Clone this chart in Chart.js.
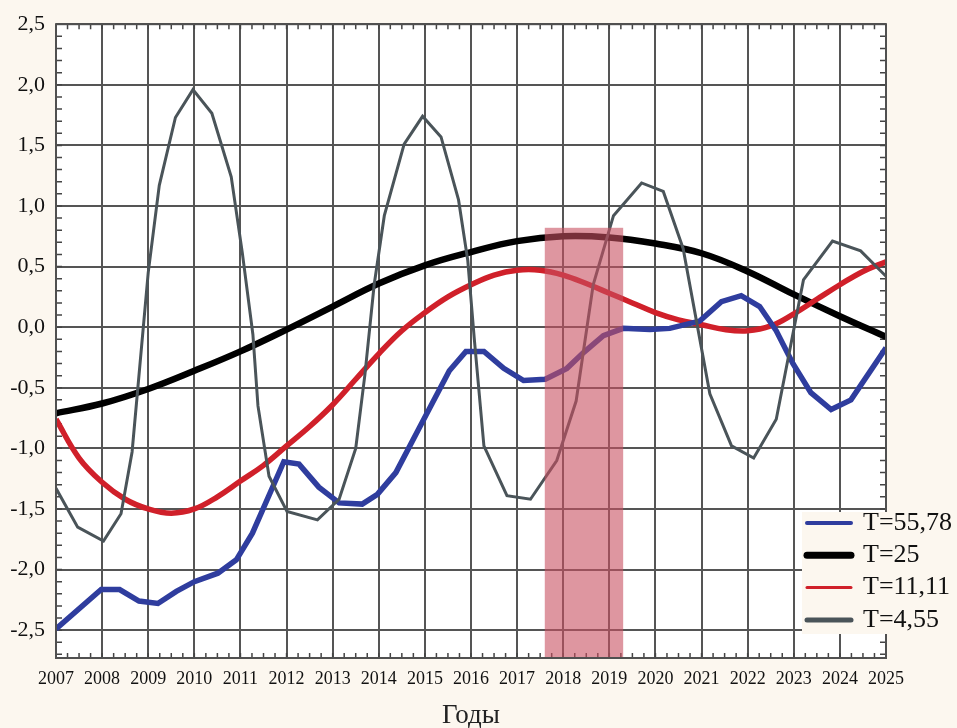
<!DOCTYPE html>
<html>
<head>
<meta charset="utf-8">
<script src="https://cdn.jsdelivr.net/npm/chart.js@4.4.1/dist/chart.umd.min.js"></script>
<style>
  html, body { margin: 0; padding: 0; background: #fcf7ef; }
  #wrap { width: 957px; height: 728px; }
</style>
</head>
<body>
<div id="wrap"><canvas id="grafico" width="957" height="728"></canvas></div>
<script>
// eixos
const xTicks = [2007, 2008, 2009, 2010, 2011, 2012, 2013, 2014, 2015, 2016, 2017, 2018, 2019, 2020, 2021, 2022, 2023, 2024, 2025];
const yTicks = [-2.5, -2, -1.5, -1, -0.5, 0, 0.5, 1, 1.5, 2, 2.5];
const xMin = 2007, xMax = 2025;
const yMin = -2.73, yMax = 2.5;
const xMinorStep = 0.25, yMinorStep = 0.1;
const axisTitle = 'Годы';

const legendLabels = ['T=55,78', 'T=25', 'T=11,11', 'T=4,55'];
const legendWidths = [4, 7, 3, 5];

// T=55,78
const blueYears = [2007.0, 2007.98, 2008.38, 2008.8, 2009.21, 2009.61, 2010.0, 2010.51, 2010.91, 2011.26, 2011.94, 2012.27, 2012.7, 2013.14, 2013.64, 2013.97, 2014.37, 2014.88, 2015.53, 2015.89, 2016.28, 2016.71, 2017.14, 2017.61, 2018.08, 2018.44, 2018.87, 2019.3, 2019.88, 2020.31, 2020.96, 2021.43, 2021.86, 2022.26, 2022.62, 2022.98, 2023.37, 2023.81, 2024.24, 2025.0];
const blueValues = [-2.49, -2.165, -2.165, -2.26, -2.28, -2.18, -2.10, -2.03, -1.92, -1.70, -1.11, -1.13, -1.32, -1.45, -1.46, -1.38, -1.20, -0.83, -0.36, -0.20, -0.20, -0.34, -0.44, -0.43, -0.34, -0.21, -0.07, -0.01, -0.02, -0.01, 0.05, 0.21, 0.26, 0.17, -0.03, -0.30, -0.54, -0.68, -0.60, -0.17];

// T=25
const blackYears = [2007, 2008, 2009, 2010, 2011, 2012, 2013, 2014, 2015, 2016, 2017, 2018, 2019, 2020, 2021, 2022, 2023, 2024, 2025];
const blackValues = [-0.71, -0.63, -0.51, -0.36, -0.20, -0.02, 0.17, 0.36, 0.51, 0.62, 0.71, 0.75, 0.74, 0.69, 0.61, 0.46, 0.27, 0.09, -0.08];

// T=11,11
const redYears = [2007, 2007.5, 2008, 2008.5, 2009, 2009.5, 2010, 2010.5, 2011, 2011.5, 2012, 2012.5, 2013, 2013.5, 2014, 2014.5, 2015, 2015.5, 2016, 2016.5, 2017, 2017.5, 2018, 2018.5, 2019, 2019.5, 2020, 2020.5, 2021, 2021.5, 2022, 2022.5, 2023, 2023.5, 2024, 2024.5, 2025];
const redValues = [-0.76, -1.08, -1.28, -1.42, -1.50, -1.535, -1.50, -1.40, -1.27, -1.14, -0.98, -0.82, -0.64, -0.43, -0.22, -0.03, 0.12, 0.25, 0.35, 0.43, 0.47, 0.47, 0.43, 0.36, 0.28, 0.20, 0.12, 0.06, 0.02, -0.02, -0.03, 0.01, 0.11, 0.23, 0.35, 0.46, 0.54];

// T=4,55
const greyYears = [2007.0, 2007.47, 2008.03, 2008.41, 2008.65, 2009.0, 2009.24, 2009.59, 2009.97, 2010.38, 2010.8, 2011.04, 2011.27, 2011.38, 2011.62, 2012.01, 2012.67, 2013.14, 2013.5, 2013.7, 2013.9, 2014.12, 2014.55, 2014.95, 2015.35, 2015.73, 2015.93, 2016.07, 2016.28, 2016.78, 2017.29, 2017.86, 2018.28, 2018.65, 2019.09, 2019.7, 2020.17, 2020.6, 2021.18, 2021.65, 2022.13, 2022.62, 2023.21, 2023.84, 2024.45, 2025.0];
const greyValues = [-1.33, -1.65, -1.765, -1.54, -1.03, 0.45, 1.17, 1.73, 1.96, 1.765, 1.24, 0.615, -0.06, -0.65, -1.23, -1.52, -1.59, -1.42, -1.0, -0.39, 0.35, 0.92, 1.51, 1.74, 1.57, 1.05, 0.55, -0.09, -0.98, -1.39, -1.42, -1.10, -0.61, 0.35, 0.92, 1.19, 1.12, 0.65, -0.55, -0.98, -1.08, -0.76, 0.39, 0.71, 0.63, 0.42];

// faixa rosa (2017.6 - 2019.3)
const bandFrom = 2017.6, bandTo = 2019.3, bandTop = 0.82;

const pares = (xs, ys) => xs.map((x, i) => ({ x: x, y: ys[i] }));
const fmt = v => v.toFixed(1).replace('.', ',');

// fundo creme + area branca
const fundo = {
    id: 'fundo',
    beforeDraw(chart) {
        const { ctx, chartArea: a } = chart;
        ctx.save();
        ctx.fillStyle = '#fcf7ef';
        ctx.fillRect(0, 0, chart.width, chart.height);
        ctx.fillStyle = '#ffffff';
        ctx.fillRect(a.left, a.top, a.right - a.left, a.bottom - a.top);
        ctx.restore();
    }
};

// tracinhos menores por dentro dos quatro lados
const tracinhos = {
    id: 'tracinhos',
    beforeDatasetsDraw(chart) {
        const { ctx, chartArea: a, scales: { x, y } } = chart;
        ctx.save();
        ctx.strokeStyle = '#444';
        ctx.lineWidth = 1.5;
        ctx.beginPath();
        for (let v = xMin; v <= xMax + 1e-9; v += xMinorStep) {
            const px = x.getPixelForValue(v);
            ctx.moveTo(px, a.bottom); ctx.lineTo(px, a.bottom - 5);
            ctx.moveTo(px, a.top); ctx.lineTo(px, a.top + 5);
        }
        for (let v = yMax; v >= yMin - 1e-9; v -= yMinorStep) {
            const py = y.getPixelForValue(v);
            ctx.moveTo(a.left, py); ctx.lineTo(a.left + 6, py);
            ctx.moveTo(a.right, py); ctx.lineTo(a.right - 6, py);
        }
        ctx.stroke();
        ctx.restore();
    }
};

// faixa translucida por cima das linhas + moldura
const faixa = {
    id: 'faixa',
    afterDatasetsDraw(chart) {
        const { ctx, chartArea: a, scales: { x, y } } = chart;
        const x0 = x.getPixelForValue(bandFrom);
        const x1 = x.getPixelForValue(bandTo);
        const y0 = y.getPixelForValue(bandTop);
        ctx.save();
        ctx.fillStyle = 'rgba(200, 80, 97, 0.6)';
        ctx.fillRect(x0, y0, x1 - x0, a.bottom - y0);
        ctx.strokeStyle = '#505050';
        ctx.lineWidth = 2;
        ctx.strokeRect(a.left, a.top, a.right - a.left, a.bottom - a.top);
        ctx.restore();
    }
};

// legenda dentro do grafico, canto inferior direito
const legenda = {
    id: 'legenda',
    afterDraw(chart) {
        const { ctx, chartArea: a } = chart;
        const left = a.right - 84, top = a.bottom - 146;
        ctx.save();
        ctx.fillStyle = '#fcf7ef';
        ctx.fillRect(left, top, chart.width - left, 122);
        ctx.font = '26px "Liberation Serif"';
        ctx.textBaseline = 'middle';
        ctx.lineCap = 'round';
        chart.data.datasets.forEach((ds, i) => {
            const cy = top + 11 + i * 32.3;
            ctx.strokeStyle = ds.borderColor;
            ctx.lineWidth = legendWidths[i];
            ctx.beginPath();
            ctx.moveTo(left + 5, cy);
            ctx.lineTo(left + 49, cy);
            ctx.stroke();
            ctx.fillStyle = '#111';
            ctx.fillText(ds.label, left + 61, cy);
        });
        ctx.restore();
    }
};

const ctx = document.getElementById('grafico').getContext('2d');

const grafico = new Chart(ctx, {
    type: 'line',
    data: {
        datasets: [
            { label: legendLabels[0], data: pares(blueYears, blueValues), borderColor: '#2f3d9e', borderWidth: 5.5, tension: 0, order: 1 },
            { label: legendLabels[1], data: pares(blackYears, blackValues), borderColor: '#000000', borderWidth: 6.5, tension: 0.4, order: 3 },
            { label: legendLabels[2], data: pares(redYears, redValues), borderColor: '#d0202a', borderWidth: 5.5, tension: 0.4, order: 2 },
            { label: legendLabels[3], data: pares(greyYears, greyValues), borderColor: '#4a5459', borderWidth: 3, tension: 0, order: 0 }
        ]
    },
    options: {
        responsive: false,
        animation: false,
        elements: { point: { radius: 0 } },
        layout: { padding: { left: 0, right: 71, top: 14, bottom: 0 } },
        plugins: {
            legend: { display: false },
            tooltip: { enabled: false }
        },
        scales: {
            x: {
                type: 'linear',
                min: xMin,
                max: xMax,
                afterBuildTicks: s => { s.ticks = xTicks.map(v => ({ value: v })); },
                afterFit: s => { s.height = 70; },
                grid: { color: '#555555', lineWidth: 2, drawTicks: false },
                border: { display: false },
                ticks: {
                    padding: 10,
                    color: '#111',
                    autoSkip: false,
                    maxRotation: 0,
                    font: { family: 'Liberation Serif', size: 18 },
                    callback: v => String(v)
                },
                title: {
                    display: true,
                    text: axisTitle,
                    color: '#222',
                    font: { family: 'Liberation Serif', size: 27, lineHeight: 1 },
                    padding: { top: 0, bottom: -1 }
                }
            },
            y: {
                type: 'linear',
                min: yMin,
                max: yMax,
                afterBuildTicks: s => { s.ticks = yTicks.map(v => ({ value: v })); },
                afterFit: s => { s.width = 56; },
                grid: { color: '#555555', lineWidth: 2, drawTicks: false },
                border: { display: false },
                ticks: {
                    padding: 11,
                    color: '#111',
                    autoSkip: false,
                    font: { family: 'Liberation Serif', size: 22 },
                    callback: v => fmt(v)
                }
            }
        }
    },
    plugins: [fundo, tracinhos, faixa, legenda]
});
</script>
</body>
</html>
